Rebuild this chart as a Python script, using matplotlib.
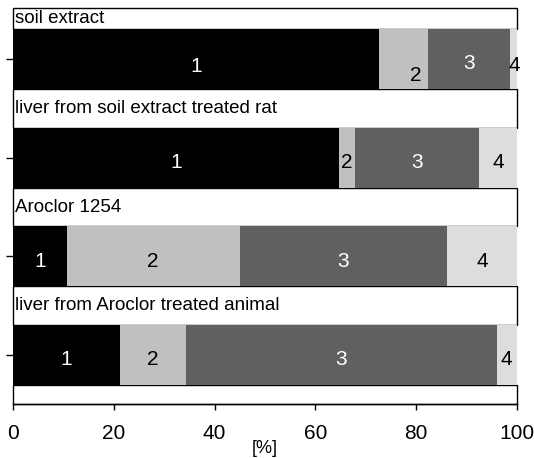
import matplotlib.pyplot as plt
from matplotlib.patches import Rectangle

plt.rcParams['font.family'] = ['Liberation Sans', 'DejaVu Sans']

# values, in percent
samples = ['soil extract', 'liver from soil extract treated rat',
           'Aroclor 1254', 'liver from Aroclor treated animal']
fraction_1 = [72.6, 64.7, 10.6, 21.1]
fraction_2 = [9.8, 3.1, 34.4, 13.2]
fraction_3 = [16.2, 24.8, 41.2, 61.7]
fraction_4 = [1.4, 7.4, 13.8, 4.0]
segment_labels = ['1', '2', '3', '4']
x_ticks = [0, 20, 40, 60, 80, 100]

colors = ['#000000', '#C0C0C0', '#606060', '#DDDDDD']
text_colors = ['white', 'black', 'white', 'black']

bar_h = 0.608
top_gap = 0.213
bottom_gap = 0.196


def draw_boxes(ax, n, y_top, y_bottom):
    '''White framed boxes between the bars, with the sample name inside.'''
    for i in range(n + 1):
        y0 = y_top if i == 0 else (i - 1) + bar_h / 2
        y1 = y_bottom if i == n else i - bar_h / 2
        ax.add_patch(Rectangle((0, y0), 100, y1 - y0, facecolor='white',
                               edgecolor='black', linewidth=1, clip_on=False, zorder=1))
        if i < n:
            ax.text(0.4, (y0 + y1) / 2, samples[i], ha='left', va='center',
                    fontsize=13.5, zorder=3)


def label_shift(row, seg):
    '''Small hand moves of the segment numbers, as in the original.'''
    if row == 0:
        return {0: (0, 0.07), 1: (2.4, 0.16), 2: (0, 0.04), 3: (0.3, 0.06)}[seg]
    return 0, 0.05


def main():
    fig = plt.figure(figsize=(5.34, 4.58), dpi=100)
    ax = fig.add_axes([0.0249, 0.1172, 0.9427, 0.8646])

    n = len(samples)
    y_top = -bar_h / 2 - top_gap
    y_bottom = (n - 1) + bar_h / 2 + bottom_gap
    ax.set_xlim(0, 100)
    ax.set_ylim(y_bottom, y_top)

    draw_boxes(ax, n, y_top, y_bottom)

    series = [fraction_1, fraction_2, fraction_3, fraction_4]
    lefts = [0.0] * n
    for k, vals in enumerate(series):
        ax.barh(range(n), vals, left=lefts, height=bar_h, color=colors[k],
                linewidth=0, zorder=2)
        for i, v in enumerate(vals):
            dx, dy = label_shift(i, k)
            ax.text(lefts[i] + v / 2 + dx, i + dy, segment_labels[k],
                    ha='center', va='center', fontsize=15,
                    color=text_colors[k], zorder=3, clip_on=False)
        lefts = [a + b for a, b in zip(lefts, vals)]

    for s in ['left', 'right', 'top']:
        ax.spines[s].set_visible(False)
    ax.spines['bottom'].set_linewidth(1)

    ax.set_yticks(range(n))
    ax.set_yticklabels([])
    ax.tick_params(axis='y', direction='out', length=5, width=1)
    ax.set_xticks(x_ticks)
    ax.set_xticklabels([str(t) for t in x_ticks])
    ax.tick_params(axis='x', direction='out', length=4.1, width=1,
                   labelsize=15, pad=10)
    ax.set_xlabel('[%]', fontsize=13, labelpad=-2)

    fig.savefig('out.png', dpi=100)


if __name__ == "__main__":
    main()
